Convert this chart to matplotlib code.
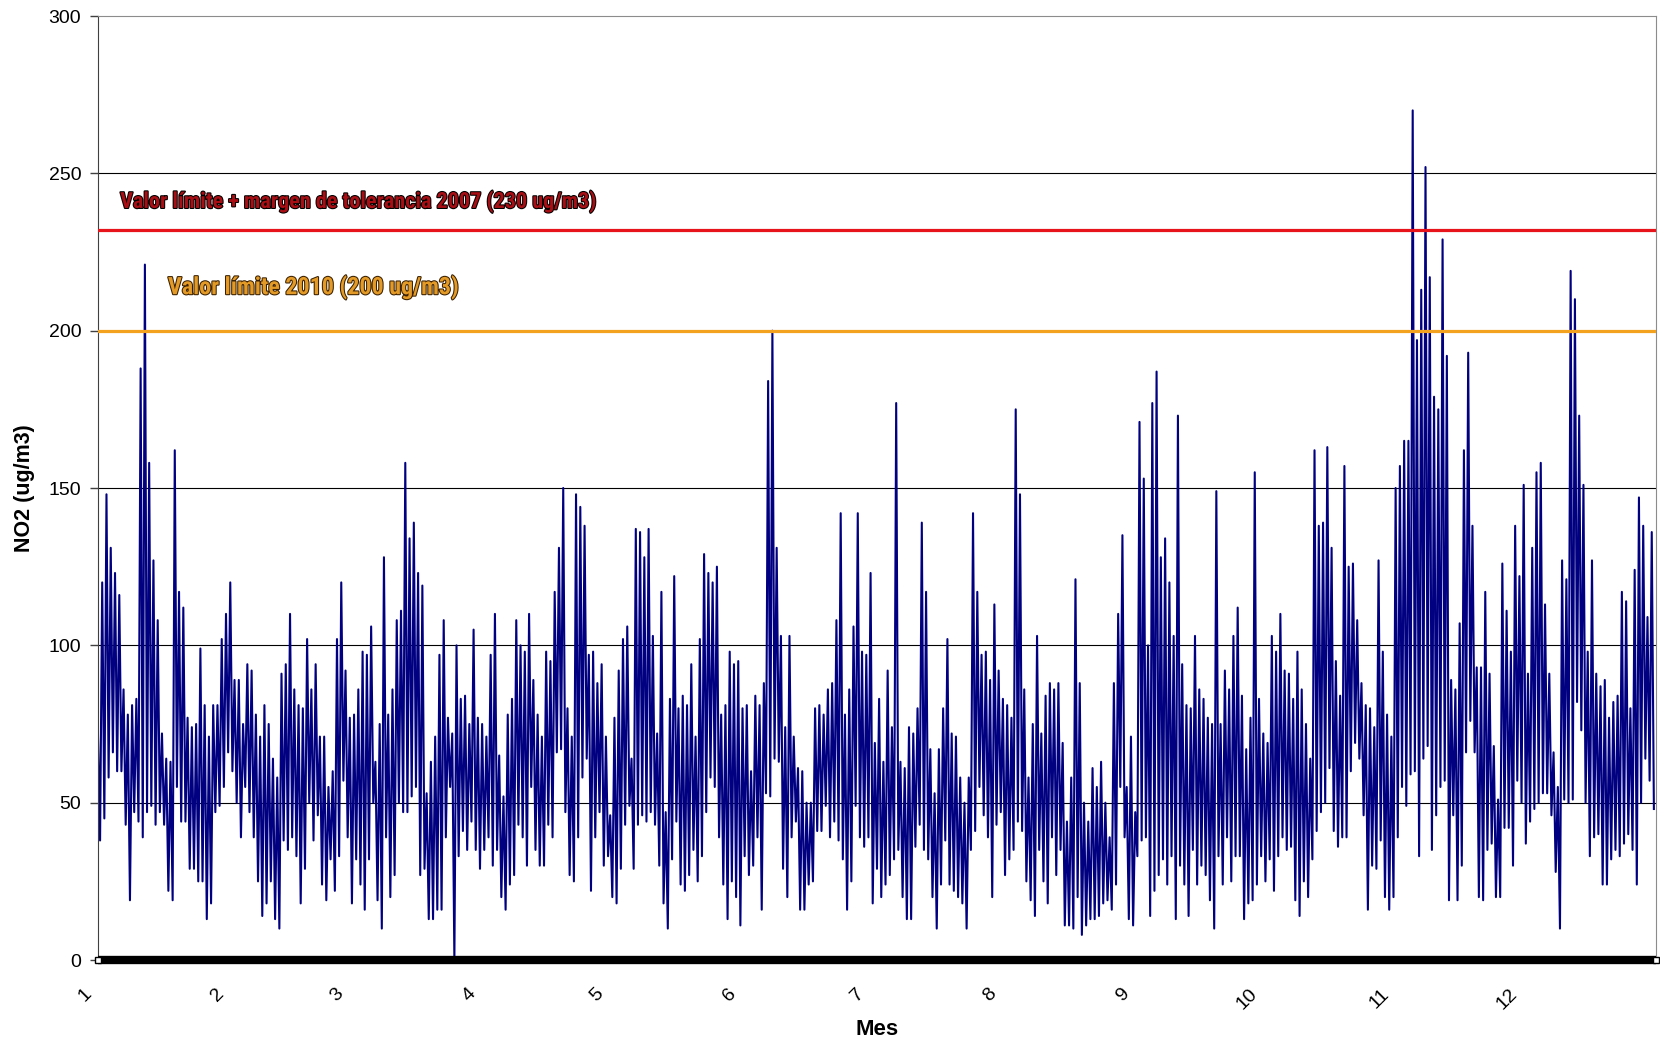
import numpy as np
import matplotlib
matplotlib.use("Agg")
import matplotlib.pyplot as plt
import matplotlib.patheffects as pe
import matplotlib.transforms as mtransforms
from matplotlib import font_manager as fm

plt.rcParams['font.family'] = ['Liberation Sans', 'DejaVu Sans']

# maximo y minimo diario de NO2 (ug/m3), por mes
jan_max = [72,120,148,131,123,116,86,78,81,83,188,221,158,127,108,72,64,63,162,117,112,77,74,75,99,81,71,81,81,102,110]
jan_min = [38,45,58,66,60,60,43,19,47,44,39,47,49,43,47,43,22,19,55,44,44,29,29,25,25,13,18,47,49,55,66]
feb_max = [120,89,89,75,94,92,78,71,81,75,64,58,91,94,110,86,81,80,102,86,94,71,71,55,60,102,120,92]
feb_min = [60,50,39,55,47,39,25,14,18,25,13,10,38,35,39,33,18,29,50,38,46,24,19,32,22,33,57,39]
mar_max = [77,78,86,98,97,106,63,75,128,78,86,108,111,158,134,139,123,119,53,63,71,97,108,77,72,100,83,84,75,105,77]
mar_min = [18,32,24,16,32,50,19,10,39,20,27,50,47,47,52,55,27,29,13,13,16,16,39,55,0,33,41,35,44,35,29]
apr_max = [75,71,97,110,65,52,78,83,108,100,98,110,89,78,71,98,95,117,131,150,80,71,148,144,138,97,98,88,94,71]
apr_min = [35,39,30,35,20,16,24,27,43,39,30,55,35,30,30,43,39,66,67,47,27,25,39,58,64,22,39,47,30,33]
may_max = [46,77,92,102,106,64,137,136,128,137,103,72,117,47,83,122,80,84,81,94,71,102,129,123,120,125,78,81,98,94,95]
may_min = [20,18,29,43,49,29,43,46,44,47,43,30,18,10,32,44,24,22,27,35,25,33,47,58,55,39,24,13,25,20,11]
jun_max = [80,81,60,84,81,88,184,200,131,103,74,103,71,61,60,50,50,80,81,78,86,88,108,142,78,86,106,142,98,97]
jun_min = [33,27,30,39,16,53,52,64,63,29,20,39,44,16,16,24,25,41,41,49,39,44,38,32,16,25,49,39,36,39]
jul_max = [123,69,83,63,92,74,177,63,61,74,72,80,139,117,67,53,67,80,102,72,71,58,50,58,142,117,97,98,89,113,92]
jul_min = [18,29,20,24,27,32,35,20,13,13,36,43,35,32,20,10,24,38,24,22,20,18,10,35,41,55,46,39,20,43,47]
aug_max = [83,81,77,175,148,86,58,75,103,72,84,88,86,88,69,44,58,121,88,50,44,61,55,63,50,39,88,110,135,55,71]
aug_min = [27,32,35,44,41,25,19,14,35,25,18,39,27,35,11,11,10,20,8,11,13,13,14,18,19,16,24,55,39,13,11]
sep_max = [47,171,153,100,177,187,128,134,120,103,173,94,81,80,103,86,83,77,75,149,75,92,86,103,112,84,67,77,155,83]
sep_min = [33,38,39,14,22,27,32,24,33,13,30,24,14,35,24,30,27,19,10,33,24,39,25,33,33,13,18,19,24,33]
oct_max = [72,69,103,98,110,92,91,83,98,86,75,64,162,138,139,163,131,95,84,157,125,126,108,88,81,80,74,127,98,78,71]
oct_min = [25,32,22,33,39,35,36,19,14,25,20,32,41,47,50,61,41,36,39,39,60,69,64,46,16,30,29,38,20,16,20]
nov_max = [150,157,165,165,270,197,213,252,217,179,175,229,192,89,86,107,162,193,138,93,93,117,91,68,51,126,111,98,138,122]
nov_min = [39,55,49,59,60,33,64,68,35,46,55,57,19,46,19,30,66,76,66,20,19,35,37,20,20,42,42,30,57,50]
dec_max = [151,91,131,155,158,113,91,66,55,127,121,219,210,173,151,98,127,91,87,89,77,82,84,117,114,80,124,147,138,109,136]
dec_min = [37,44,48,50,53,53,46,28,10,51,50,51,82,73,50,33,39,40,24,24,32,35,33,37,40,35,24,50,64,57,48]

month_labels = ['1','2','3','4','5','6','7','8','9','10','11','12']
limit_2007 = 232   # linea roja, tal como aparece en el grafico
limit_2010 = 200

all_max = [jan_max,feb_max,mar_max,apr_max,may_max,jun_max,jul_max,aug_max,sep_max,oct_max,nov_max,dec_max]
all_min = [jan_min,feb_min,mar_min,apr_min,may_min,jun_min,jul_min,aug_min,sep_min,oct_min,nov_min,dec_min]
daily_max = np.concatenate(all_max)
daily_min = np.concatenate(all_min)
month_start = np.concatenate([[0], np.cumsum([len(m) for m in all_max])[:-1]])
n_days = len(daily_max)

#alternate max / min of each day so the series keeps its spiky look
values = np.empty(2*n_days)
values[0::2] = daily_max
values[1::2] = daily_min
days = np.arange(2*n_days) * 0.5


#look for a narrow / condensed bold face for the two limit labels
def narrow_bold_font():
    prefs = ['Liberation Sans Narrow', 'Arial Narrow', 'DejaVu Sans Condensed',
             'Roboto Condensed', 'Noto Sans', 'Open Sans', 'DejaVu Sans']
    found = []
    for f in fm.fontManager.ttflist:
        w = f.weight
        if isinstance(w, str):
            w = fm.weight_dict.get(w, 400)
        narrow = ('Narrow' in f.name or 'Condensed' in f.name
                  or 'ondensed' in str(f.stretch) or 'Condensed' in f.fname)
        if narrow and w >= 600 and 'Extra' not in f.fname and 'Ultra' not in f.fname:
            rank = prefs.index(f.name) if f.name in prefs else len(prefs)
            found.append((rank, f.fname))
    if found:
        found.sort()
        return fm.FontProperties(fname=found[0][1])
    return fm.FontProperties(family=['Roboto', 'DejaVu Sans'], weight='bold')


label_font = narrow_bold_font()

fig = plt.figure(figsize=(16.6, 10.39), dpi=100)
ax = fig.add_axes([0.059, 0.076, 0.9386, 0.9086])

for g in [50, 100, 150, 200, 250]:
    ax.axhline(g, color='black', lw=0.8, zorder=1)

ax.plot(days, values, color='#000080', lw=1.5, zorder=2)

ax.axhline(limit_2007, color='#E8141B', lw=2.3, zorder=3)
ax.axhline(limit_2010, color='#F2A21E', lw=2.3, zorder=3)

t_red = ax.text(5.2, 239, 'Valor límite + margen de tolerancia 2007 (230 ug/m3)',
                fontproperties=label_font, fontsize=17, color='#A80E14',
                va='baseline', zorder=4,
                path_effects=[pe.withStroke(linewidth=1.5, foreground='black')])
t_org = ax.text(16.4, 211.6, 'Valor límite 2010 (200 ug/m3)',
                fontproperties=label_font, fontsize=20.5, color='#E39A26',
                va='baseline', zorder=4,
                path_effects=[pe.withStroke(linewidth=1.5, foreground='#3a2000')])

#fit the labels to the width they have in the original (pixels)
fig.canvas.draw()
r = fig.canvas.get_renderer()
for t, target in [(t_red, 477), (t_org, 292)]:
    wpx = t.get_window_extent(r).width
    t.set_fontsize(t.get_fontsize() * target / wpx)

#thick black base line (the dense category ticks of the original)
ax.plot([0, n_days], [0, 0], color='black', lw=6, solid_capstyle='butt',
        clip_on=False, zorder=5)
ax.plot([0, n_days], [0, 0], ls='none', marker='s', ms=5, mfc='white',
        mec='black', mew=1, clip_on=False, zorder=6)

ax.set_xlim(0, n_days)
ax.set_ylim(0, 300)
ax.set_yticks(range(0, 301, 50))
ax.set_xticks(month_start)
ax.set_xticklabels(month_labels, rotation=45, ha='right', rotation_mode='anchor')
ax.tick_params(axis='x', length=0, pad=18, labelsize=14)
ax.tick_params(axis='y', length=6, width=1, direction='out', pad=6, labelsize=14,
               color='#404040')
shift = mtransforms.ScaledTranslation(-15/100, 0, fig.dpi_scale_trans)
for lab in ax.get_xticklabels():
    lab.set_transform(lab.get_transform() + shift)

ax.spines['left'].set_color('#404040')
ax.spines['top'].set_color('#8c8c8c')
ax.spines['right'].set_color('#8c8c8c')
ax.spines['bottom'].set_visible(False)

ax.set_ylabel('NO2 (ug/m3)', fontweight='bold', fontsize=15.5, labelpad=10)
ax.set_xlabel('Mes', fontweight='bold', fontsize=16, labelpad=5)

fig.savefig('out.png', dpi=100)
